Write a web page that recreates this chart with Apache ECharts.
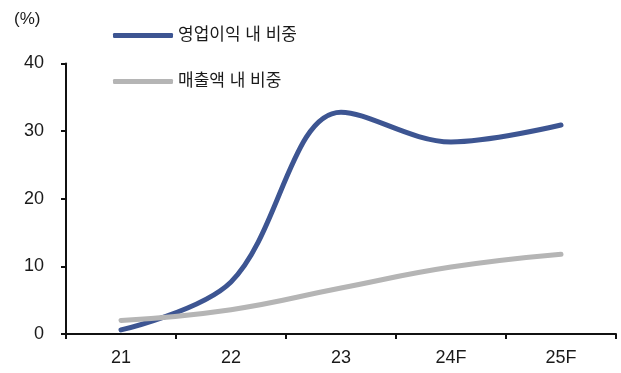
<!DOCTYPE html>
<html>
<head>
<meta charset="utf-8">
<script src="https://cdn.jsdelivr.net/npm/echarts@6/dist/echarts.min.js"></script>
<style>
html, body { margin: 0; padding: 0; background: #fff; }
#chart { width: 621px; height: 373px; }
</style>
</head>
<body>
<div id="chart"></div>
<script>
var years = ['21', '22', '23', '24F', '25F'];
var opProfitShare = [0.6, 7.7, 32.8, 28.4, 30.9];   // 영업이익 내 비중
var salesShare = [2.0, 3.6, 6.8, 9.9, 11.8];        // 매출액 내 비중
var yTicks = [0, 10, 20, 30, 40];

var chart = echarts.init(document.getElementById('chart'));
var font = '"Liberation Sans", "Noto Sans CJK KR", sans-serif';

var option = {
    animation: false,
    title: {
        text: '(%)',
        left: 9,
        top: 6,
        textStyle: { fontSize: 17, fontWeight: 'normal', color: '#1a1a1a', fontFamily: font }
    },
    legend: [
        {
            data: ['영업이익 내 비중'],
            left: 108,
            top: 22,
            icon: 'roundRect',
            itemWidth: 60,
            itemHeight: 5,
            itemGap: 6,
            textStyle: { fontSize: 17, color: '#1a1a1a', fontFamily: font }
        },
        {
            data: ['매출액 내 비중'],
            left: 108,
            top: 68,
            icon: 'roundRect',
            itemWidth: 60,
            itemHeight: 5,
            itemGap: 6,
            textStyle: { fontSize: 17, color: '#1a1a1a', fontFamily: font }
        }
    ],
    grid: {
        left: 66,
        right: 5,
        top: 63.5,
        bottom: 39,
        containLabel: false
    },
    xAxis: {
        type: 'category',
        data: years,
        boundaryGap: true,
        axisLine: { lineStyle: { color: '#111', width: 2 } },
        axisTick: { show: true, length: 5, lineStyle: { color: '#111', width: 2 } },
        axisLabel: { fontSize: 18, color: '#1a1a1a', margin: 15, fontFamily: font }
    },
    yAxis: {
        type: 'value',
        min: yTicks[0],
        max: yTicks[yTicks.length - 1],
        interval: 10,
        axisLine: { show: true, lineStyle: { color: '#111', width: 2 } },
        axisTick: { show: true, length: 5, lineStyle: { color: '#111', width: 2 } },
        splitLine: { show: false },
        axisLabel: { fontSize: 18, color: '#1a1a1a', margin: 22, fontFamily: font }
    },
    series: [
        {
            name: '영업이익 내 비중',
            type: 'line',
            data: opProfitShare,
            smooth: 0.35,
            symbol: 'none',
            color: '#3d5592',
            lineStyle: { color: '#3d5592', width: 5, cap: 'round' }
        },
        {
            name: '매출액 내 비중',
            type: 'line',
            data: salesShare,
            smooth: 0.45,
            symbol: 'none',
            color: '#b5b5b5',
            lineStyle: { color: '#b5b5b5', width: 5, cap: 'round' }
        }
    ]
};

chart.setOption(option);
</script>
</body>
</html>
